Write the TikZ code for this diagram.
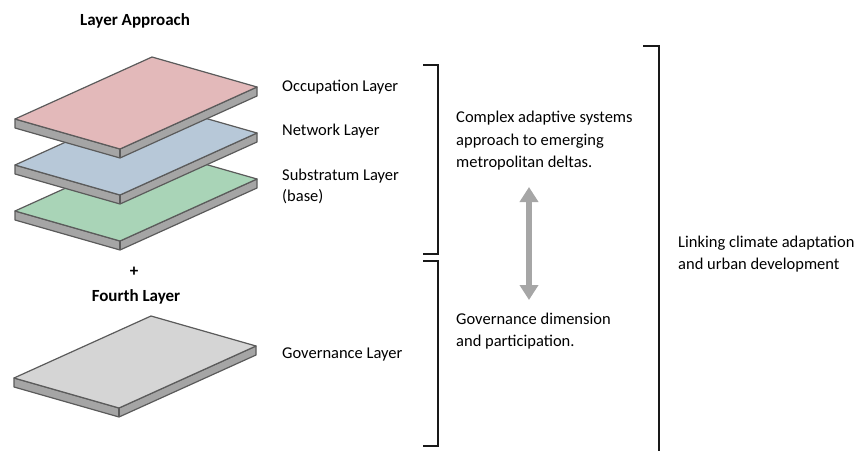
\documentclass[tikz,border=0pt]{standalone}
\usepackage{fontspec}
\setmainfont{Carlito}
\usetikzlibrary{arrows.meta}
\definecolor{pinktop}{HTML}{E3B9BA}
\definecolor{bluetop}{HTML}{B7C8D8}
\definecolor{greentop}{HTML}{A9D4B7}
\definecolor{greytop}{HTML}{D5D5D5}
\definecolor{slabside}{HTML}{A5A5A5}
\definecolor{slabline}{HTML}{5B5B5B}
\definecolor{arrowgrey}{HTML}{A6A6A6}
\tikzset{
  slabedge/.style={draw=slabline, line width=1.2pt, line join=round},
  label/.style={anchor=base west, inner sep=0pt, font=\fontsize{16.5}{21}\selectfont},
  para/.style={anchor=west, inner sep=0pt, align=left, font=\fontsize{16.5}{22.5}\selectfont},
  heading/.style={anchor=base, inner sep=0pt, font=\fontsize{17}{20}\selectfont\bfseries},
  bracket/.style={draw=black!90, line width=1.5pt},
  twoway/.style={draw=arrowgrey, line width=6pt, {Triangle[width=18pt,length=15pt]}-{Triangle[width=18pt,length=15pt]}}
}
% #1 = left corner, #2 = top colour
\newcommand{\slabshape}[2]{%
  \fill[slabside] (#1) -- ++(105,30) -- ++(137,-62) -- ++(0,9) -- ++(-137,62) -- ++(-105,-30) -- cycle;
  \draw[slabedge] (#1) -- ++(105,30) -- ++(137,-62) -- ++(0,9) -- ++(-137,62) -- ++(-105,-30) -- cycle;
  \draw[slabedge] ($(#1)+(105,30)$) -- ++(0,9);
  \draw[slabedge, fill=#2] (#1) -- ++(137,-62) -- ++(105,30) -- ++(-137,62) -- cycle;
}
\usetikzlibrary{calc}
\begin{document}
\begin{tikzpicture}[x=1pt,y=-1pt]
\useasboundingbox (0,0) rectangle (866,450);
% slabs
\coordinate (gL) at (15,211);
\coordinate (bL) at (15,165);
\coordinate (pL) at (15,119);
\coordinate (vL) at (14,378);
\slabshape{gL}{greentop}
\slabshape{bL}{bluetop}
\slabshape{pL}{pinktop}
\slabshape{vL}{greytop}
% headings
\node[heading] (hA) at (135,25) {Layer Approach};
\node[heading] (plus) at (134,276) {+};
\node[heading] (hF) at (136,301) {Fourth Layer};
% layer labels
\node[label] (occ) at (282,91) {Occupation Layer};
\node[label] (net) at (282,135) {Network Layer};
\node[label] (sub) at (282,180) {Substratum Layer};
\node[label] (base) at (282,201) {(base)};
\node[label] (gov) at (282,358) {Governance Layer};
% brackets
\draw[bracket] (423,65) -- (438,65) -- (438,254) -- (423,254);
\draw[bracket] (423,261) -- (438,261) -- (438,446) -- (423,446);
\draw[bracket] (643,46) -- (659,46) -- (659,452);
% paragraphs
\node[para] (cas) at (456,141) {Complex adaptive systems\\approach to emerging\\metropolitan deltas.};
\node[para] (gd) at (456,331) {Governance dimension\\and participation.};
\node[para] (link) at (678,254) {Linking climate adaptation\\and urban development};
% double arrow
\coordinate (aT) at (529,187);
\coordinate (aB) at (529,300);
\draw[twoway] (aT) -- (aB);
\end{tikzpicture}
\end{document}
